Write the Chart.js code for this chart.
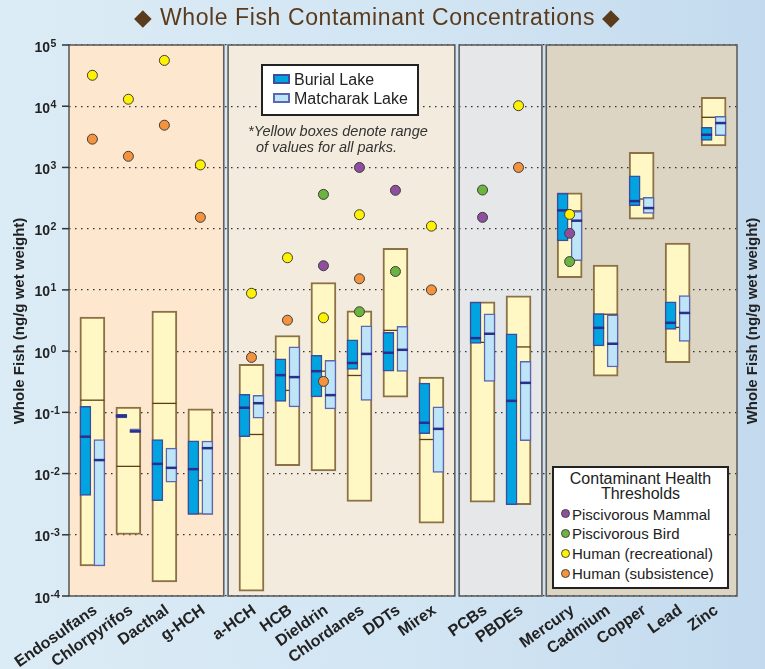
<!DOCTYPE html>
<html>
<head>
<meta charset="utf-8">
<script src="https://cdn.jsdelivr.net/npm/chart.js@4.4.1/dist/chart.umd.min.js"></script>
<style>
  html, body { margin: 0; padding: 0; }
  body {
    width: 765px; height: 669px; overflow: hidden; position: relative;
    background: linear-gradient(to right, #dcecf6 0%, #d2e5f3 55%, #c3daee 100%);
    font-family: "Liberation Sans", Arial, sans-serif; color: #222;
  }
  #chart { position: absolute; left: 0; top: 0; }
  .title {
    position: absolute; left: 0; top: 6px; width: 755px; text-align: center;
    font-size: 23px; line-height: 23px; letter-spacing: 0.6px; color: #5a3b1c;
  }
  .ytitle {
    position: absolute; width: 300px; height: 18px; line-height: 18px; text-align: center;
    font-weight: bold; font-size: 15px; color: #222; transform: rotate(-90deg);
  }
  .box { position: absolute; box-sizing: border-box; border: 2px solid #222; background: #fff; }
  .box div { position: absolute; white-space: nowrap; }
  .sw { box-sizing: border-box; border: 2px solid; width: 17px; height: 10px; }
  .lake { font-size: 16px; line-height: 16px; }
  .note { position: absolute; font-style: italic; font-size: 14.5px; line-height: 15.5px; color: #333; white-space: nowrap; }
  .thr { font-size: 15px; line-height: 15px; }
  .dot { box-sizing: border-box; width: 9px; height: 9px; border-radius: 50%; border: 1px solid #444; }
  .ht { font-size: 16px; line-height: 16px; width: 173px; text-align: center; left: 0; }
</style>
</head>
<body>
<canvas id="chart" width="765" height="669"></canvas>

<div class="title">◆ Whole Fish Contaminant Concentrations ◆</div>
<div class="ytitle" style="left:-131px; top:311.5px;">Whole Fish (ng/g wet weight)</div>
<div class="ytitle" style="left:601.5px; top:311.5px;">Whole Fish (ng/g wet weight)</div>

<div class="box" style="left:261px; top:64px; width:158px; height:52px;">
  <div class="sw" style="left:10px; top:8px; background:#00a4e0; border-color:#3c4d9f;"></div>
  <div class="lake" style="left:31px; top:5.5px;">Burial Lake</div>
  <div class="sw" style="left:10px; top:27px; background:#bee4f8; border-color:#5b67b3;"></div>
  <div class="lake" style="left:31px; top:24.5px;">Matcharak Lake</div>
</div>
<div class="note" style="left:248px; top:124px;">*Yellow boxes denote range</div>
<div class="note" style="left:256px; top:139.5px;">of values for all parks.</div>

<div class="box" style="left:552px; top:466px; width:177px; height:123px;">
  <div class="ht" style="top:2.5px;">Contaminant Health</div>
  <div class="ht" style="top:18px;">Thresholds</div>
  <div class="dot" style="left:7px; top:41px; background:#8f4e9e;"></div>
  <div class="thr" style="left:18px; top:38.6px;">Piscivorous Mammal</div>
  <div class="dot" style="left:7px; top:60.5px; background:#6db33f;"></div>
  <div class="thr" style="left:18px; top:58.3px;">Piscivorous Bird</div>
  <div class="dot" style="left:7px; top:80.5px; background:#fff200;"></div>
  <div class="thr" style="left:18px; top:78.3px;">Human (recreational)</div>
  <div class="dot" style="left:7px; top:100.5px; background:#f4923d;"></div>
  <div class="thr" style="left:18px; top:98.3px;">Human (subsistence)</div>
</div>

<script>
// contaminants, grouped into four shaded panels
const categories = ['Endosulfans', 'Chlorpyrifos', 'Dacthal', 'g-HCH',
  'a-HCH', 'HCB', 'Dieldrin', 'Chlordanes', 'DDTs', 'Mirex',
  'PCBs', 'PBDEs',
  'Mercury', 'Cadmium', 'Copper', 'Lead', 'Zinc'];
const panelOf = [0, 0, 0, 0, 1, 1, 1, 1, 1, 1, 2, 2, 3, 3, 3, 3, 3];
const tickExponents = [5, 4, 3, 2, 1, 0, -1, -2, -3, -4];

// yellow boxes: range of values for all parks (ng/g wet weight)
const allMin = [3.1e-4, 0.00101, 1.7e-4, 0.00215, 1.2e-4, 0.0134, 0.011, 0.0035, 0.177, 0.00155, 0.0034, 0.0031, 15.8, 0.39, 143, 0.65, 2240];
const allMax = [3.6, 0.122, 4.5, 0.114, 0.61, 1.8, 13.2, 4.56, 47.7, 0.376, 6.4, 8.0, 386, 25.4, 1766, 58, 13960];
const allMed = [0.158, 0.0131, 0.14, 0.0077, 0.0435, 0.228, 0.47, 0.40, 2.18, 0.036, 1.39, 1.17, 195, 4.0, 305, 2.44, 6590];

// Burial Lake
const burialMin = [0.0044, 0.081, 0.0036, 0.00215, 0.040, 0.151, 0.179, 0.50, 0.47, 0.045, 1.34, 0.0031, 63, 1.22, 237, 2.26, 2770];
const burialMax = [0.125, 0.093, 0.036, 0.0343, 0.196, 0.75, 0.85, 1.53, 2.02, 0.30, 6.3, 1.92, 378, 4.1, 731, 6.4, 4520];
const burialMed = [0.040, 0.087, 0.0144, 0.0118, 0.119, 0.405, 0.47, 0.64, 0.94, 0.0675, 1.63, 0.154, 199, 2.4, 282, 2.9, 3420];

// Matcharak Lake
const matchMin = [3.1e-4, 0.047, 0.0072, 0.00215, 0.080, 0.123, 0.114, 0.156, 0.465, 0.0104, 0.32, 0.0343, 30, 0.55, 178, 1.44, 3300];
const matchMax = [0.036, 0.054, 0.026, 0.034, 0.19, 1.17, 0.71, 2.59, 2.53, 0.123, 4.06, 0.68, 192, 3.93, 324, 8.1, 6840];
const matchMed = [0.0166, 0.049, 0.0124, 0.026, 0.141, 0.376, 0.191, 0.90, 1.05, 0.0537, 1.92, 0.303, 135, 1.32, 217, 4.2, 5310];

// health thresholds
const mammal = [null, null, null, null, null, null, 24.8, 1000, 423, null, 153, null, 84, null, null, null, null];
const bird = [null, null, null, null, null, null, 363, 4.4, 20, null, 428, null, 29, null, null, null, null];
const humanRec = [32000, 13000, 56000, 1100, 8.8, 33.5, 3.5, 169, null, 110, null, 10200, 171, null, null, null, null];
const humanSub = [2900, 1520, 4900, 153, 0.79, 3.2, 0.32, 15.2, null, 10, null, 1000, null, null, null, null, null];

const PANEL_GAP = 0.42;
const PANEL_PAD = 0.65;
const SIDE = 0.194;
const xPos = categories.map((c, i) => i + panelOf[i] * PANEL_GAP);
const panelColors = ['#fde7cf', '#f3ebde', '#e6e7e9', '#ddd5c3'];

function boxData(lo, hi, dx) {
    return xPos.map((x, i) => ({ x: x + dx, y: [lo[i], hi[i]] }));
}
function lineData(v, dx) {
    return xPos.map((x, i) => ({ x: x + dx, y: v[i] }));
}
function pointData(v) {
    return xPos.map((x, i) => ({ x: x, y: v[i] })).filter(p => p.y != null);
}
function panelEdges(p) {
    const xs = xPos.filter((v, i) => panelOf[i] === p);
    return [Math.min(...xs) - PANEL_PAD, Math.max(...xs) + PANEL_PAD];
}

const panelPlugin = {
    id: 'panels',
    beforeDraw(chart) {
        const { ctx, chartArea: a, scales: { x } } = chart;
        ctx.save();
        panelColors.forEach((col, p) => {
            const [lo, hi] = panelEdges(p);
            const l = x.getPixelForValue(lo), r = x.getPixelForValue(hi);
            ctx.fillStyle = col;
            ctx.fillRect(l, a.top, r - l, a.bottom - a.top);
        });
        ctx.restore();
    },
    beforeDatasetsDraw(chart) {
        const { ctx, chartArea: a, scales: { x } } = chart;
        ctx.save();
        ctx.strokeStyle = '#5e5e5e';
        ctx.lineWidth = 1.6;
        panelColors.forEach((col, p) => {
            const [lo, hi] = panelEdges(p);
            const l = x.getPixelForValue(lo), r = x.getPixelForValue(hi);
            ctx.strokeRect(l, a.top, r - l, a.bottom - a.top);
        });
        ctx.restore();
    }
};

// y tick labels as 10 with a raised exponent
const yLabelPlugin = {
    id: 'yLabels',
    afterDraw(chart) {
        const { ctx, chartArea: a, scales: { y } } = chart;
        ctx.save();
        ctx.fillStyle = '#222';
        ctx.strokeStyle = '#333';
        ctx.lineWidth = 1.5;
        ctx.textAlign = 'left';
        ctx.textBaseline = 'alphabetic';
        tickExponents.forEach(e => {
            const py = y.getPixelForValue(Math.pow(10, e));
            ctx.beginPath();
            ctx.moveTo(a.left - 7, py);
            ctx.lineTo(a.left, py);
            ctx.stroke();
            ctx.font = 'bold 14px "Liberation Sans", Arial, sans-serif';
            ctx.fillText('10', 34.5, py + 6.5);
            const w = ctx.measureText('10').width;
            ctx.font = 'bold 10.5px "Liberation Sans", Arial, sans-serif';
            ctx.fillText(String(e), 34.5 + w + 0.5, py + 1.5);
        });
        ctx.restore();
    }
};

const thresholdPoint = {
    type: 'scatter',
    pointRadius: 5,
    borderWidth: 1,
    borderColor: '#3d3d3d',
    order: 0
};

new Chart(document.getElementById('chart'), {
    type: 'bar',
    data: {
        datasets: [
            { ...thresholdPoint, label: 'Piscivorous Mammal', data: pointData(mammal), backgroundColor: '#8f4e9e' },
            { ...thresholdPoint, label: 'Piscivorous Bird', data: pointData(bird), backgroundColor: '#6db33f' },
            { ...thresholdPoint, label: 'Human (recreational)', data: pointData(humanRec), backgroundColor: '#fff200' },
            { ...thresholdPoint, label: 'Human (subsistence)', data: pointData(humanSub), backgroundColor: '#f4923d' },
            {
                type: 'scatter', label: 'Burial median', data: lineData(burialMed, -SIDE),
                pointStyle: 'line', pointRadius: 5.5, borderWidth: 2.5, borderColor: '#2b2f8c', order: 1
            },
            {
                type: 'scatter', label: 'Matcharak median', data: lineData(matchMed, SIDE),
                pointStyle: 'line', pointRadius: 5.5, borderWidth: 2.5, borderColor: '#2b2f8c', order: 1
            },
            {
                label: 'Burial Lake', data: boxData(burialMin, burialMax, -SIDE),
                backgroundColor: '#00a4e0', borderColor: '#3c4d9f', borderWidth: 1.5,
                borderSkipped: false, barThickness: 11, grouped: false, order: 2
            },
            {
                label: 'Matcharak Lake', data: boxData(matchMin, matchMax, SIDE),
                backgroundColor: '#bee4f8', borderColor: '#5b67b3', borderWidth: 1.5,
                borderSkipped: false, barThickness: 11, grouped: false, order: 2
            },
            {
                type: 'scatter', label: 'All parks median', data: lineData(allMed, 0),
                pointStyle: 'line', pointRadius: 12, borderWidth: 1.3, borderColor: '#5c3d17', order: 3
            },
            {
                label: 'All parks', data: boxData(allMin, allMax, 0),
                backgroundColor: '#fff8c4', borderColor: '#8c7046', borderWidth: 2,
                borderSkipped: false, barThickness: 25, grouped: false, order: 4
            }
        ]
    },
    options: {
        responsive: false,
        animation: false,
        events: [],
        layout: { padding: { top: 45, right: 28, left: 0, bottom: 0 } },
        plugins: {
            legend: { display: false },
            tooltip: { enabled: false }
        },
        scales: {
            x: {
                type: 'linear',
                offset: false,
                min: xPos[0] - PANEL_PAD,
                max: xPos[xPos.length - 1] + PANEL_PAD,
                grid: { display: false, offset: false },
                border: { display: false },
                afterBuildTicks: (scale) => { scale.ticks = xPos.map(v => ({ value: v })); },
                afterFit: (scale) => { scale.height = 73; scale.paddingLeft = 0; scale.paddingRight = 0; },
                ticks: {
                    autoSkip: false,
                    minRotation: 35,
                    maxRotation: 35,
                    padding: -3,
                    labelOffset: 3,
                    color: '#222',
                    font: { family: '"Liberation Sans", Arial, sans-serif', size: 16, weight: 'bold' },
                    callback: (value, index) => categories[index]
                }
            },
            y: {
                type: 'logarithmic',
                min: 1e-4,
                max: 1e5,
                afterBuildTicks: (scale) => { scale.ticks = tickExponents.map(e => ({ value: Math.pow(10, e) })); },
                afterFit: (scale) => { scale.width = 69; },
                ticks: { display: false },
                border: { display: false, dash: [1.5, 4.5] },
                grid: { color: '#333', lineWidth: 1.2, drawTicks: false }
            }
        }
    },
    plugins: [panelPlugin, yLabelPlugin]
});
</script>
</body>
</html>
